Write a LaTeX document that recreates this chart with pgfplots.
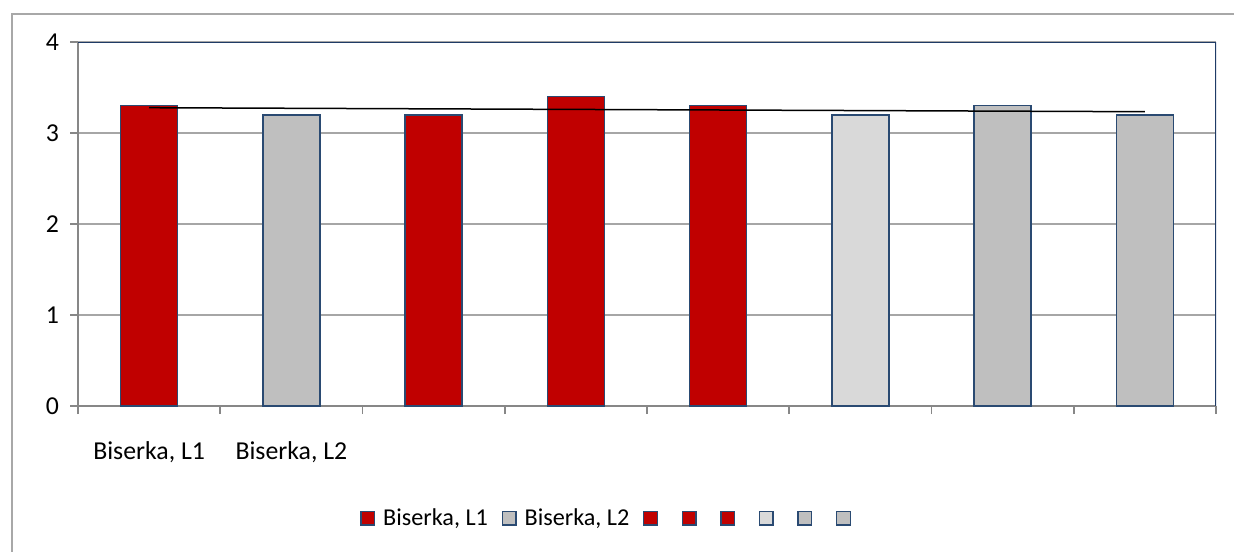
\documentclass[border=0pt]{standalone}
\usepackage{fontspec}
\setmainfont{Carlito}
\usepackage{pgfplots}
\pgfplotsset{compat=1.18}

\definecolor{barred}{HTML}{C00000}
\definecolor{bargray}{HTML}{BFBFBF}
\definecolor{barlight}{HTML}{D9D9D9}
\definecolor{edgeblue}{HTML}{2A4A72}
\definecolor{framenavy}{HTML}{1F3B66}
\definecolor{axisgray}{HTML}{878787}
\definecolor{gridgray}{HTML}{A6A6A6}
\definecolor{bordergray}{HTML}{A8A8A8}

\newcommand{\chartfont}{\fontsize{12.9}{15}\selectfont}
\newcommand{\legendfont}{\fontsize{12.1}{14}\selectfont}

\pgfplotsset{
  catbar/.style={ybar, bar width=0.4, bar shift=0pt, draw=edgeblue,
    line width=0.75pt, fill=#1,
    legend image code/.code={\draw[fill=#1, draw=edgeblue, line width=0.7pt]
      (0.35pt,-3.4pt) rectangle (7.15pt,3.4pt);}},
}

\begin{document}
\begin{tikzpicture}
\useasboundingbox (0,0) rectangle (617pt,275.5pt);
% chart area border
\draw[bordergray, line width=1pt] (6pt,-5pt) -- (6pt,268.5pt) -- (640pt,268.5pt);
\begin{axis}[
  at={(39pt,72.5pt)}, anchor=south west,
  width=569pt, height=182pt, scale only axis,
  xmin=-0.5, xmax=7.5, ymin=0, ymax=4,
  axis x line*=bottom, axis y line*=left,
  axis line style={axisgray, line width=0.9pt, -},
  ytick={0,1,2,3,4},
  ymajorgrids, grid style={gridgray, line width=0.7pt},
  xtick={-0.5,0.5,...,7.5}, xticklabels={},
  extra x ticks={0,1},
  extra x tick labels={{Biserka, L1},{Biserka, L2}},
  extra x tick style={major tick length=0pt, grid=none,
    xticklabel style={yshift=-14.5pt}},
  tick align=outside, major tick length=4pt,
  tick style={axisgray, line width=0.9pt},
  tick label style={font=\chartfont, text=black},
  yticklabel style={xshift=-2pt},
  /pgf/number format/assume math mode=true,
  legend style={at={(0.468,-0.308)}, anchor=center, draw=none, fill=none,
    font=\legendfont, legend columns=8, nodes={inner xsep=0pt},
    /tikz/every odd column/.append style={column sep=4pt},
    /tikz/every even column/.append style={column sep=6.8pt}},
  legend cell align=left,
]
\addplot[catbar=barred]   coordinates {(0,3.3)}; \addlegendentry{Biserka, L1}
\addplot[catbar=bargray]  coordinates {(1,3.2)}; \addlegendentry{Biserka, L2}
\addplot[catbar=barred]   coordinates {(2,3.2)}; \addlegendentry{\mbox{}}
\addplot[catbar=barred]   coordinates {(3,3.4)}; \addlegendentry{\mbox{}}
\addplot[catbar=barred]   coordinates {(4,3.3)}; \addlegendentry{\mbox{}}
\addplot[catbar=barlight] coordinates {(5,3.2)}; \addlegendentry{\mbox{}}
\addplot[catbar=bargray]  coordinates {(6,3.3)}; \addlegendentry{\mbox{}}
\addplot[catbar=bargray]  coordinates {(7,3.2)}; \addlegendentry{\mbox{}}
% linear trend
\addplot[black, line width=0.75pt, forget plot] coordinates {(0,3.278) (7,3.234)};
% plot area frame on the top and right
\draw[framenavy, line width=1pt] (rel axis cs:0,1) -- (rel axis cs:1,1) -- (rel axis cs:1,0);
\end{axis}
\end{tikzpicture}
\end{document}
